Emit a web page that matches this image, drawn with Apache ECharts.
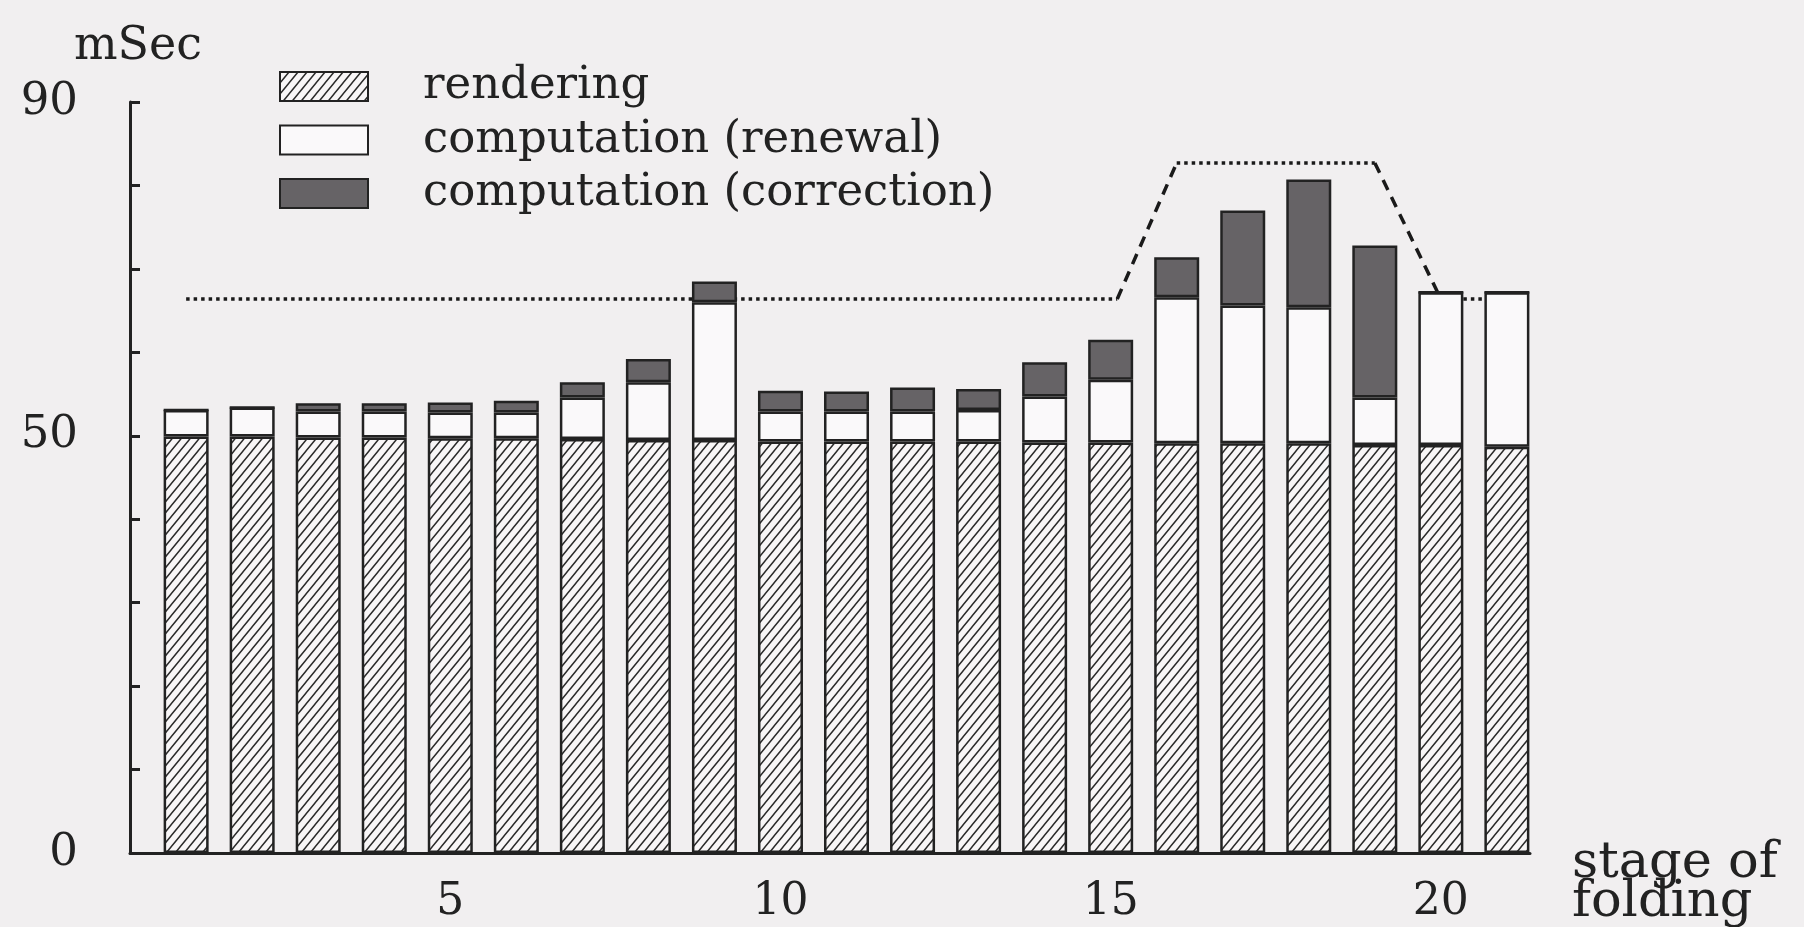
<!DOCTYPE html>
<html>
<head>
<meta charset="utf-8">
<title>stage of folding</title>
<script src="https://cdn.jsdelivr.net/npm/echarts@6/dist/echarts.min.js"></script>
<style>
  html, body { margin: 0; padding: 0; background: #f1eff0; }
  #main { width: 1804px; height: 927px; }
</style>
</head>
<body>
<div id="main"></div>
<script>
// 数据：每一段的毫秒数
var stages = [1, 2, 3, 4, 5, 6, 7, 8, 9, 10, 11, 12, 13, 14, 15, 16, 17, 18, 19, 20, 21];
var rendering = [49.9, 49.9, 49.8, 49.8, 49.7, 49.7, 49.6, 49.5, 49.5, 49.3, 49.3, 49.3, 49.3, 49.2, 49.2, 49.1, 49.1, 49.1, 48.9, 48.9, 48.7];
var renewal = [3.2, 3.5, 3.1, 3.1, 3.1, 3.1, 5.0, 6.9, 16.5, 3.6, 3.6, 3.6, 3.8, 5.5, 7.5, 17.5, 16.5, 16.3, 5.7, 18.3, 18.5];
var correction = [0, 0, 1.0, 1.0, 1.2, 1.4, 1.8, 2.8, 2.5, 2.5, 2.4, 2.9, 2.5, 4.1, 4.8, 4.8, 11.4, 15.3, 18.2, 0, 0];
// 上限线（虚线）
var limitX = [1, 15.1, 16, 19, 20, 21];
var limitY = [66.4, 66.4, 82.7, 82.7, 66.4, 66.4];
var yLabels = [0, 50, 90];
var xLabels = [5, 10, 15, 20];

var chart = echarts.init(document.getElementById('main'));

// 斜线填充
function hatch() {
    var c = document.createElement('canvas');
    c.width = 9; c.height = 11;
    var ctx = c.getContext('2d');
    ctx.fillStyle = '#f8f6f7';
    ctx.fillRect(0, 0, 9, 11);
    ctx.strokeStyle = '#2a2a2a';
    ctx.lineWidth = 1.5;
    ctx.beginPath();
    ctx.moveTo(-1, 12.2); ctx.lineTo(10, -1.2);
    ctx.moveTo(-1, 1.2); ctx.lineTo(1, -1.2);
    ctx.moveTo(8, 12.2); ctx.lineTo(10, 9.8);
    ctx.stroke();
    return c;
}

// [数值, 阶段]，y放在第一列，这样堆叠作用在y上
function pairs(vals) {
    return vals.map(function (v, i) { return [v, stages[i]]; });
}

var font = 'DejaVu Serif';
var ink = '#222';

var limitSeries = [];
for (var k = 0; k < limitX.length - 1; k++) {
    var sloped = limitY[k] !== limitY[k + 1];
    limitSeries.push({
        type: 'line',
        z: 1,
        symbol: 'none',
        silent: true,
        lineStyle: { color: '#1a1a1a', width: 3.5, type: sloped ? [11, 8] : [3.5, 4] },
        data: [[limitX[k], limitY[k]], [limitX[k + 1], limitY[k + 1]]]
    });
}

var barBase = {
    type: 'bar',
    stack: 'total',
    barWidth: 45,
    z: 2,
    encode: { x: 1, y: 0 }
};

var option = {
    backgroundColor: '#f1eff0',
    animation: false,
    textStyle: { fontFamily: font },
    grid: { left: 130, right: 274, top: 102, bottom: 74, outerBoundsMode: 'none', containLabel: false },
    legend: {
        data: ['rendering', 'computation (renewal)', 'computation (correction)'],
        orient: 'vertical',
        left: 274,
        top: 59,
        icon: 'rect',
        itemWidth: 88,
        itemHeight: 29,
        itemGap: 8.5,
        textStyle: { fontFamily: font, fontSize: 45, lineHeight: 30, color: ink, padding: [0, 0, 0, 50] }
    },
    xAxis: {
        type: 'value',
        min: 0.15,
        max: 21.35,
        name: 'stage of\nfolding',
        nameLocation: 'end',
        nameGap: 42,
        nameTextStyle: { fontFamily: font, fontSize: 51, color: ink, align: 'left', verticalAlign: 'top', lineHeight: 39, padding: [-9, 0, 0, 0] },
        splitLine: { show: false },
        axisLine: { lineStyle: { color: ink, width: 3 } },
        axisTick: { show: false },
        axisLabel: { customValues: xLabels, fontFamily: font, fontSize: 44, color: ink, margin: 28 }
    },
    yAxis: {
        type: 'value',
        min: 0,
        max: 90,
        interval: 10,
        name: 'mSec',
        nameLocation: 'end',
        nameGap: 32,
        nameTextStyle: { fontFamily: font, fontSize: 46, color: ink, padding: [0, 0, 0, 16] },
        splitLine: { show: false },
        axisLine: { show: true, lineStyle: { color: ink, width: 3 } },
        axisTick: { show: true, inside: true, length: 10, lineStyle: { color: ink, width: 3 } },
        axisLabel: { customValues: yLabels, fontFamily: font, fontSize: 45, color: ink, margin: 52 }
    },
    series: [
        Object.assign({}, barBase, {
            name: 'rendering',
            itemStyle: { color: { image: hatch(), repeat: 'repeat' }, borderColor: ink, borderWidth: 2.5 },
            data: pairs(rendering)
        }),
        Object.assign({}, barBase, {
            name: 'computation (renewal)',
            itemStyle: { color: '#faf9fa', borderColor: ink, borderWidth: 2.5 },
            data: pairs(renewal)
        }),
        Object.assign({}, barBase, {
            name: 'computation (correction)',
            itemStyle: { color: '#666366', borderColor: ink, borderWidth: 2.5 },
            data: pairs(correction)
        })
    ].concat(limitSeries)
};

chart.setOption(option);
</script>
</body>
</html>
